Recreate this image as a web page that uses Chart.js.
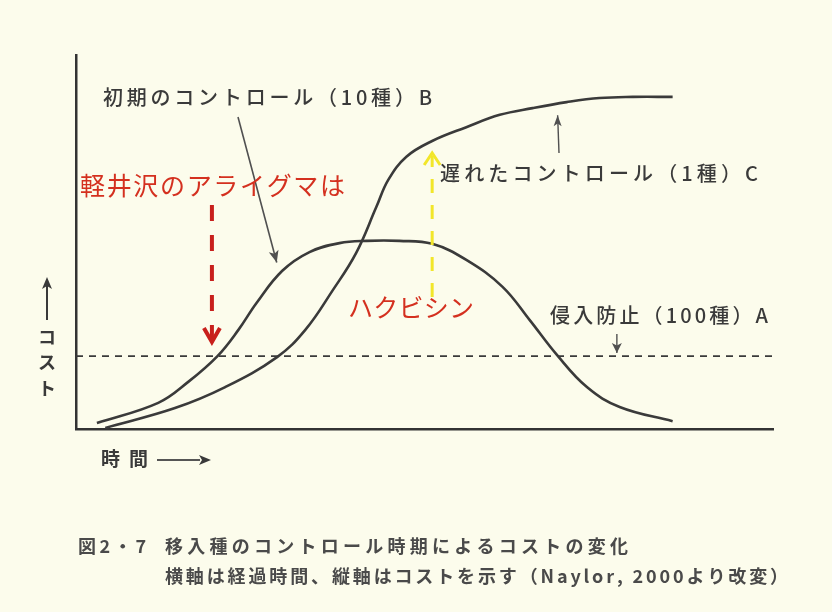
<!DOCTYPE html>
<html><head><meta charset="utf-8">
<script src="https://cdn.jsdelivr.net/npm/chart.js@4.4.1/dist/chart.umd.min.js"></script>
<style>html,body{margin:0;padding:0;background:#fcfcec;} #wrap{width:832px;height:612px;position:relative;}</style>
</head><body><div id="wrap"><canvas id="c" width="832" height="612"></canvas></div>
<script>
// Time (x) and cost (y), arbitrary units 0-100
const timeA = [0, 100];
const costA = [19.5, 19.5];
const timeB = [3.0, 11.8, 16.1, 20.3, 23.3, 25.9, 29.6, 33.5, 37.8, 41.7, 46.4, 51.1, 56.0, 61.2, 65.1, 69.0, 73.3, 78.0, 85.6];
const costB = [1.6, 7.0, 12.6, 19.5, 26.5, 33.7, 42.3, 47.3, 49.7, 50.3, 50.3, 49.5, 45.2, 38.0, 29.1, 19.8, 11.2, 5.9, 2.1];
const timeC = [4.2, 14.2, 21.4, 28.9, 32.9, 36.8, 40.2, 43.1, 44.8, 47.4, 51.1, 56.0, 60.8, 65.5, 70.4, 75.1, 79.9, 85.6];
const costC = [0.3, 5.6, 11.2, 19.3, 26.5, 37.0, 47.1, 59.4, 66.6, 72.8, 77.0, 80.7, 84.0, 85.8, 87.4, 88.5, 88.8, 88.8];
const seriesLabels = ['侵入防止（100種）A', '初期のコントロール（10種）B', '遅れたコントロール（1種）C'];
const redLabel1 = '軽井沢のアライグマは';
const redLabel2 = 'ハクビシン';
const yTitle = 'コスト';
const xTitle = '時間';
const captionNo = '図2・7';
const caption1 = '移入種のコントロール時期によるコストの変化';
const caption2 = '横軸は経過時間、縦軸はコストを示す（Naylor, 2000より改変）';

const pts = (xs, ys) => xs.map((x, i) => ({x: x, y: ys[i]}));
const JP = '"Noto Sans CJK JP", "Noto Sans", sans-serif';

function drawFit(ctx, text, x0, x1, y) {
  const chars = Array.from(text);
  const widths = chars.map(c => ctx.measureText(c).width);
  const total = widths.reduce((a, b) => a + b, 0);
  const sp = chars.length > 1 ? (x1 - x0 - total) / (chars.length - 1) : 0;
  let x = x0;
  ctx.textAlign = 'left';
  ctx.textBaseline = 'middle';
  chars.forEach((c, i) => { ctx.fillText(c, x, y); x += widths[i] + sp; });
}

function arrowHead(ctx, x, y, angle, len, half, color) {
  ctx.save();
  ctx.translate(x, y); ctx.rotate(angle);
  ctx.fillStyle = color;
  ctx.beginPath(); ctx.moveTo(0, 0); ctx.lineTo(-len, -half); ctx.lineTo(-len * 0.75, 0); ctx.lineTo(-len, half); ctx.closePath();
  ctx.fill();
  ctx.restore();
}

function line(ctx, x0, y0, x1, y1, color, w, dash) {
  ctx.save();
  ctx.strokeStyle = color; ctx.lineWidth = w; ctx.setLineDash(dash || []);
  ctx.beginPath(); ctx.moveTo(x0, y0); ctx.lineTo(x1, y1); ctx.stroke();
  ctx.restore();
}

const bgPlugin = {
  id: 'bg',
  beforeDraw(chart) {
    const ctx = chart.ctx;
    ctx.save(); ctx.fillStyle = '#fcfcec'; ctx.fillRect(0, 0, chart.width, chart.height); ctx.restore();
  }
};

const annoPlugin = {
  id: 'anno',
  afterDraw(chart) {
    const ctx = chart.ctx;
    const X = v => chart.scales.x.getPixelForValue(v);
    const Y = v => chart.scales.y.getPixelForValue(v);
    ctx.save();
    // series labels
    ctx.fillStyle = '#3a3a3a';
    ctx.font = '500 20px ' + JP;
    drawFit(ctx, seriesLabels[1], 103, 432, 97);
    drawFit(ctx, seriesLabels[2], 440, 758, 173);
    drawFit(ctx, seriesLabels[0], 550, 768, 315);

    // pointer arrows (gray)
    const g = '#505050';
    line(ctx, 238, 117, X(28.8), Y(44.5), g, 1.6);
    arrowHead(ctx, X(28.8), Y(44.5), Math.atan2(Y(44.5) - 117, X(28.8) - 238), 12, 5, g);
    line(ctx, 559, 153, X(69.1), Y(84.4) + 2, g, 1.4);
    arrowHead(ctx, X(69.1), Y(84.4) + 2, -Math.PI / 2, 11, 4, g);
    line(ctx, X(77.6), 334, X(77.6), Y(costA[0]) - 3, g, 1.4);
    arrowHead(ctx, X(77.6), Y(costA[0]) - 3, Math.PI / 2, 10, 5, g);

    // red text + red dashed arrow
    ctx.fillStyle = '#d4301f';
    ctx.font = '400 25px ' + JP;
    drawFit(ctx, redLabel1, 80, 345, 185);
    drawFit(ctx, redLabel2, 348, 474, 307);
    const rx = X(19.5);
    line(ctx, rx, 205, rx, 340, '#c8201c', 4, [16, 14]);
    ctx.save();
    ctx.strokeStyle = '#c8201c'; ctx.lineWidth = 4; ctx.lineJoin = 'miter';
    ctx.beginPath(); ctx.moveTo(rx - 8, 328); ctx.lineTo(rx, 342); ctx.lineTo(rx + 8, 328); ctx.stroke();
    ctx.restore();

    // yellow dashed arrow
    const yx = X(51.1);
    line(ctx, yx, 297, yx, 156, '#f2e62a', 3, [14, 12]);
    ctx.save();
    ctx.strokeStyle = '#f2e62a'; ctx.lineWidth = 3;
    ctx.beginPath(); ctx.moveTo(yx - 8, 165); ctx.lineTo(yx, 153); ctx.lineTo(yx + 8, 165); ctx.stroke();
    ctx.restore();

    // axis titles
    ctx.fillStyle = '#3a3a3a';
    ctx.font = '700 18px ' + JP;
    ctx.textAlign = 'center'; ctx.textBaseline = 'middle';
    Array.from(yTitle).forEach((c, i) => ctx.fillText(c, 47, [337, 362, 388][i]));
    line(ctx, 47, 320, 47, 286, '#3a3a3a', 2);
    arrowHead(ctx, 47, 277, -Math.PI / 2, 12, 5, '#3a3a3a');
    ctx.font = '700 19px ' + JP;
    drawFit(ctx, xTitle, 101, 148, 459);
    line(ctx, 157, 460, 200, 460, '#555', 1.8);
    arrowHead(ctx, 211, 460, 0, 12, 5, '#3a3a3a');

    // caption
    ctx.fillStyle = '#4a4a4a';
    ctx.font = '700 18px ' + JP;
    drawFit(ctx, captionNo, 78, 146, 546);
    drawFit(ctx, caption1, 165, 628, 546);
    drawFit(ctx, caption2, 165, 788, 576);
    ctx.restore();
  }
};

new Chart(document.getElementById('c').getContext('2d'), {
  type: 'line',
  data: {
    datasets: [
      {label: seriesLabels[0], data: pts(timeA, costA), borderColor: '#3a3a3a', borderWidth: 1.8, borderDash: [7, 6], pointRadius: 0, tension: 0},
      {label: seriesLabels[1], data: pts(timeB, costB), borderColor: '#3a3a3a', borderWidth: 2.6, pointRadius: 0, tension: 0.4},
      {label: seriesLabels[2], data: pts(timeC, costC), borderColor: '#3a3a3a', borderWidth: 2.6, pointRadius: 0, tension: 0.4}
    ]
  },
  options: {
    responsive: false, animation: false, devicePixelRatio: 1,
    layout: {padding: {left: 76, right: 59, top: 55, bottom: 183}},
    plugins: {legend: {display: false}, tooltip: {enabled: false}},
    scales: {
      x: {type: 'linear', min: 0, max: 100, ticks: {display: false}, grid: {display: false, drawTicks: false}, border: {display: true, color: '#333', width: 2.5}},
      y: {type: 'linear', min: 0, max: 100, ticks: {display: false}, grid: {display: false, drawTicks: false}, border: {display: true, color: '#333', width: 2.5}}
    }
  },
  plugins: [bgPlugin, annoPlugin]
});
</script>
</body></html>
